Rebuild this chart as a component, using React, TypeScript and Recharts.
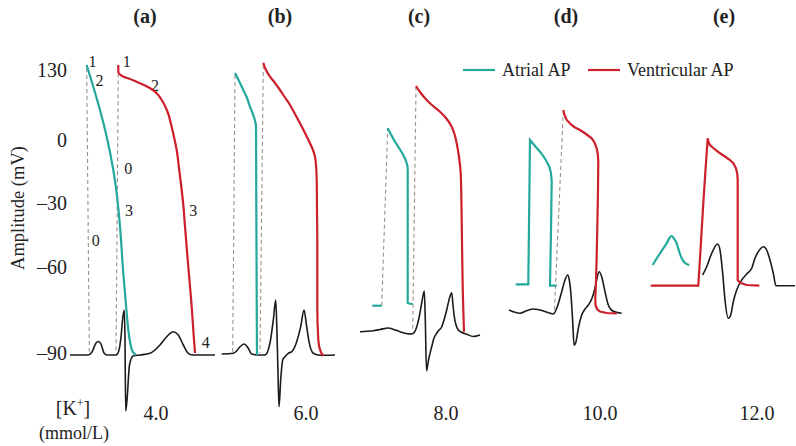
import { LineChart, Line, XAxis, YAxis } from 'recharts';

// Everything is laid out in one shared plot space (x: 0-796, y: 0-446 top-down),
// the amplitude axis is schematic so tick positions carry their own labels.
const ampTickPos = [70, 140, 203, 267, 353];
const ampTickLabels = ['130', '0', '\u201330', '\u201360', '\u201390'];

const panelTitles = ['(a)', '(b)', '(c)', '(d)', '(e)'];
const panelTitleX = [145, 280, 419, 566, 724];
const potassiumLabels = ['4.0', '6.0', '8.0', '10.0', '12.0'];
const potassiumX = [156, 306, 446, 600, 757];

// (a) 4.0 mmol/L
const atrialA = [[86.7, 65], [93.3, 86.7], [100, 110], [106.7, 136.7], [113.3, 170], [116.7, 193.3], [120, 226.7], [123.3, 273.3], [126.7, 313.3], [128.3, 330], [130, 341.7], [132.7, 351.7], [136, 355]];
const ventricularA = [[118.3, 65], [118.3, 72], [120, 74.5], [123, 76.5], [130, 79], [137, 82], [145, 85.5], [153, 90], [159, 96], [164, 104], [168, 113], [171, 124], [174, 137], [176.7, 150], [179, 168], [181.7, 190], [183.5, 207], [185, 226.7], [188.3, 266.7], [191.7, 306.7], [193.5, 333], [195, 353]];
const ecgA = [[70, 355], [88, 355], [92, 352], [96, 343], [98.5, 341.5], [101, 344], [104, 353], [107, 355], [116, 355], [119, 350], [121, 337], [123, 316], [124.3, 310], [125, 340], [125.7, 411], [127, 400], [129.5, 365], [133, 356], [140, 355], [150, 353.3], [160, 345], [166.7, 336.7], [173.3, 331.7], [178.3, 335], [183.3, 345], [188.3, 353.3], [193.3, 355], [215, 355]];
const dashA1 = [[86.7, 68], [89.3, 351.7]];
const dashA2 = [[118.3, 73.3], [116, 353.3]];

// (b) 6.0 mmol/L
const atrialB = [[235, 73], [239, 81], [243.3, 90], [247, 98], [250, 106.7], [252.5, 113], [254.3, 118.3], [255.5, 123], [256, 128.3], [256.2, 180], [256.5, 250], [256.8, 320], [257, 355]];
const ventricularB = [[263.3, 62.7], [265.5, 69], [270, 76.7], [275, 83], [280, 90], [285, 97.5], [290, 105], [295, 114], [300, 123.3], [305, 133], [310, 143.3], [313, 150], [315, 156.7], [316.2, 168], [316.7, 180], [317, 210], [317.3, 240], [317.3, 306.7], [318.3, 340], [320.7, 351.7], [323.3, 356]];
const ecgB = [[221.7, 354], [233.3, 353.3], [237, 350.5], [240, 346.7], [244.3, 344], [248.3, 348.3], [251.7, 354], [258, 355], [265, 355], [270, 343], [273.3, 320], [275.7, 300], [276.7, 323], [278, 373], [279, 406.7], [280.7, 380], [282.7, 360], [285, 356.7], [288.3, 353.3], [291.7, 351.7], [296.7, 341.7], [300.7, 326.7], [304, 310], [306.7, 326.7], [309, 341.7], [313.3, 353.3], [320, 355.3], [335, 355]];
const dashB1 = [[235, 75], [232.7, 353]];
const dashB2 = [[263.3, 65], [260, 353]];

// (c) 8.0 mmol/L
const atrialC1 = [[372.3, 305.7], [381.7, 305.7]];
const atrialC2 = [[387.7, 128.3], [391, 134.5], [395, 141.7], [399, 148], [403.3, 155], [406.7, 163.3], [407.7, 168.3], [407.7, 240], [407.7, 303.3], [412.7, 304]];
const ventricularC = [[416, 86], [420, 92], [426.7, 100], [433, 106], [440, 111.7], [446, 118], [451.7, 126.7], [454.5, 134], [456.7, 143.3], [459, 157], [460.7, 173.3], [461.3, 195], [461.7, 220], [462.2, 255], [462.7, 286.7], [463.3, 310], [464, 331.7]];
const ecgC = [[360, 331.7], [373.3, 330.7], [380, 329.5], [388.3, 328], [395, 330], [400, 331.7], [406, 333.5], [411.7, 334], [414.5, 332], [416.7, 327], [419, 318], [421.7, 303], [424.3, 291], [425.3, 320], [426.5, 371], [428.5, 360], [431.7, 346.7], [434, 338], [436.7, 333.3], [439, 330], [441.7, 327], [444, 320], [446.7, 310], [449.5, 298], [451.7, 292.7], [453, 305], [454.3, 316.7], [456, 325], [458.3, 330], [462, 332.5], [466.7, 334.3], [473.3, 336.5], [480, 335]];
const dashC1 = [[381.7, 305.7], [387.7, 128.3]];
const dashC2 = [[416, 86.7], [412.7, 331.7]];

// (d) 10.0 mmol/L
const atrialD = [[515.7, 284.3], [528.3, 284.3], [530, 140], [535, 146], [540, 151.7], [544, 157], [546.7, 161.7], [549.5, 167], [551, 173.3], [551.7, 181.7], [551, 230], [550, 285.7], [556.7, 285.7]];
const ventricularD = [[563.3, 110], [564.5, 115], [566.7, 120], [571, 124.5], [575, 127.5], [580, 130], [586, 134], [591.7, 138.3], [594.5, 142.5], [596.7, 148.3], [597.8, 154], [598.3, 161.7], [598, 190], [597.3, 228.3], [596.7, 255], [596, 281.7], [595.3, 298], [595.5, 305], [597, 309], [600, 311.5], [606.7, 313], [616.7, 313.3]];
const ecgD = [[509, 310], [514, 312], [520, 313.3], [527, 310.5], [533.3, 309], [538, 309.5], [543.3, 311], [548, 312.5], [553.3, 314], [556.7, 308.3], [561.7, 291.7], [565, 280], [567.7, 275], [569.3, 280], [571, 295], [572.7, 321.7], [574, 345], [576, 341.7], [578.3, 328.3], [581.7, 315], [585, 309], [588.3, 305], [591.7, 299], [595, 288.3], [597.3, 276.7], [599.3, 271.7], [601.7, 276.7], [605, 291.7], [608.3, 305], [612.7, 311], [621.7, 313.3]];
const dashD = [[563.3, 110], [554.3, 313.3]];

// (e) 12.0 mmol/L
const atrialE = [[652.7, 265], [656, 259.5], [660, 253.3], [663.5, 248], [666.7, 243.3], [669.5, 238], [671.7, 236], [674, 238.5], [676.7, 243.3], [679, 251], [681.7, 258.3], [685, 263], [689.3, 265]];
const ventricularE = [[650.7, 285.7], [698.3, 285.7], [700.5, 250], [703.3, 203.3], [705.5, 170], [707.7, 138.3], [708.5, 142], [710, 145], [715, 149.5], [720, 153.3], [725, 156.5], [730, 160], [733.5, 163.5], [736, 168.3], [737.3, 174], [737.7, 180], [737.7, 230], [737.7, 280], [740, 282.7], [746.7, 285], [759.3, 285.7]];
const ecgE = [[702.7, 275], [706.7, 266.7], [711.7, 253.3], [717.7, 244], [720, 250], [722.7, 273.3], [725, 300], [728.3, 318.3], [730.7, 315], [733.3, 301.7], [736.7, 290], [741.7, 280], [746.7, 274], [751.7, 268.3], [755, 258.3], [760, 249.3], [763.3, 246.7], [766.7, 250], [770, 260], [773.3, 273.3], [776, 285.7], [795, 285.7]];

// phase labels on panel (a)
const phaseLabels = ['1', '2', '1', '2', '0', '3', '3', '0', '4'];
const phaseX = [92.5, 99.5, 126.7, 155, 128.3, 129, 193.3, 95.7, 205.7];
const phaseY = [61, 80, 61.5, 85, 168, 210, 210, 240, 342];

const TEAL = '#22a99c';
const RED = '#cd1f2b';
const INK = '#1c1c1c';
const GUIDE = '#9d9088';
const SERIF = '"Liberation Serif", "Times New Roman", Times, serif';
const txt = { fontFamily: SERIF, fill: '#222' };

const pts = (arr: number[][]) => arr.map(([x, y]) => ({ x, y }));

type Trace = { data: number[][]; color: string; width: number; curve: any; dash?: string };

const traces: Trace[] = [
  ...[dashA1, dashA2, dashB1, dashB2, dashC1, dashC2, dashD].map((d) => ({ data: d, color: GUIDE, width: 1.1, curve: 'linear', dash: '4 3' })),
  ...[ecgA, ecgB, ecgC, ecgD, ecgE].map((d) => ({ data: d, color: INK, width: 1.6, curve: 'monotone' })),
  { data: atrialA, color: TEAL, width: 2.2, curve: 'monotoneY' },
  { data: atrialB, color: TEAL, width: 2.2, curve: 'monotoneY' },
  { data: atrialC1, color: TEAL, width: 2.2, curve: 'linear' },
  { data: atrialC2, color: TEAL, width: 2.2, curve: 'monotoneY' },
  { data: atrialD, color: TEAL, width: 2.2, curve: 'linear' },
  { data: atrialE, color: TEAL, width: 2.2, curve: 'monotone' },
  { data: ventricularA, color: RED, width: 2.2, curve: 'monotoneY' },
  { data: ventricularB, color: RED, width: 2.2, curve: 'monotoneY' },
  { data: ventricularC, color: RED, width: 2.2, curve: 'monotoneY' },
  { data: ventricularD, color: RED, width: 2.2, curve: 'linear' },
  { data: ventricularE, color: RED, width: 2.2, curve: 'linear' },
];

const renderAmpTick = (props: any) => {
  const { y, payload } = props;
  const i = ampTickPos.indexOf(Number(payload.value));
  return (
    <text key={`amp-${payload.value}`} x={67} y={y} dy={6.5} textAnchor="end" fontSize={20} style={txt}>
      {ampTickLabels[i]}
    </text>
  );
};

export default function App() {
  return (
    <div style={{ position: 'absolute', left: 0, top: 0, width: 796, height: 446, background: '#fff', fontFamily: SERIF }}>
      <LineChart width={796} height={446} margin={{ top: 0, right: 0, bottom: 0, left: 0 }}>
        <XAxis type="number" dataKey="x" domain={[1, 796]} allowDataOverflow hide />
        <YAxis
          type="number"
          domain={[0, 446]}
          reversed
          allowDataOverflow
          width={1}
          ticks={ampTickPos}
          interval={0}
          tick={renderAmpTick}
          axisLine={false}
          tickLine={false}
        />
        {traces.map((t, i) => (
          <Line
            key={i}
            data={pts(t.data)}
            dataKey="y"
            type={t.curve}
            stroke={t.color}
            strokeWidth={t.width}
            strokeDasharray={t.dash}
            dot={false}
            activeDot={false}
            isAnimationActive={false}
          />
        ))}
        <g>
          <text x={18} y={208} fontSize={18.5} textAnchor="middle" transform="rotate(-90 18 208)" dy={6} style={txt}>
            Amplitude (mV)
          </text>
          {panelTitles.map((t, i) => (
            <text key={t} x={panelTitleX[i]} y={23} fontSize={20} fontWeight="bold" textAnchor="middle" style={txt}>
              {t}
            </text>
          ))}
          {phaseLabels.map((t, i) => (
            <text key={i} x={phaseX[i]} y={phaseY[i]} dy={5.5} fontSize={16} textAnchor="middle" style={txt}>
              {t}
            </text>
          ))}
          {potassiumLabels.map((t, i) => (
            <text key={t} x={potassiumX[i]} y={420} fontSize={20} textAnchor="middle" style={txt}>
              {t}
            </text>
          ))}
          <text x={73} y={415} fontSize={20} textAnchor="middle" style={txt}>
            [K<tspan dy={-8} fontSize={12}>+</tspan>
            <tspan dy={8}>]</tspan>
          </text>
          <text x={74} y={439} fontSize={18} textAnchor="middle" style={txt}>
            (mmol/L)
          </text>
          <line x1={463} x2={495} y1={70} y2={70} stroke={TEAL} strokeWidth={2.2} />
          <text x={502} y={76} fontSize={18} style={txt}>
            Atrial AP
          </text>
          <line x1={588} x2={620} y1={70} y2={70} stroke={RED} strokeWidth={2.2} />
          <text x={627} y={76} fontSize={18} style={txt}>
            Ventricular AP
          </text>
        </g>
      </LineChart>
    </div>
  );
}
